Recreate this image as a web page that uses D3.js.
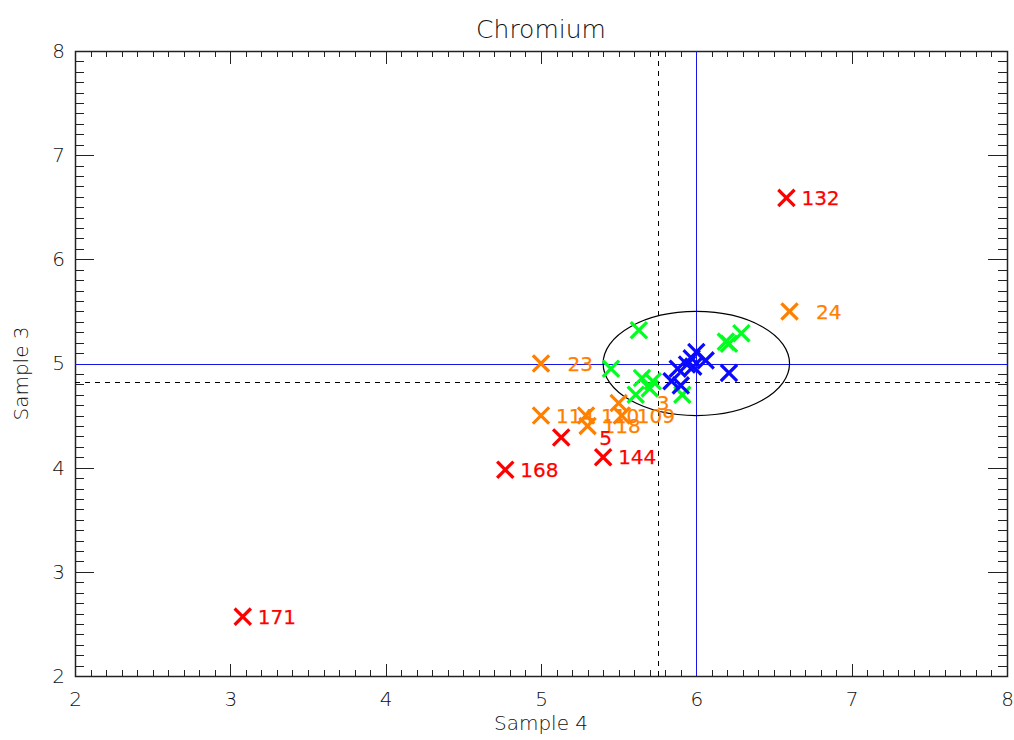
<!DOCTYPE html>
<html>
<head>
<meta charset="utf-8">
<script src="https://cdn.jsdelivr.net/npm/d3@7"></script>
<style>
  html, body { margin: 0; padding: 0; background: #fff; }
  svg { display: block; }
  text { font-family: "DejaVu Sans", sans-serif; }
</style>
</head>
<body>
<svg id="chart" width="1014" height="740"></svg>
<script>
// Axis ranges and tick labels
const xDomain = [2, 8];
const yDomain = [2, 8];
const xTickValues = [2, 3, 4, 5, 6, 7, 8];
const yTickValues = [2, 3, 4, 5, 6, 7, 8];

// Labelled outliers (red)
const redIds = [132, 171, 168, 144, 5];
const redX   = [6.58, 3.08, 4.77, 5.40, 5.13];
const redY   = [6.59, 2.57, 3.98, 4.10, 4.29];

// Labelled flagged samples (orange)
const orangeIds = [24, 23, 114, 110, 118, 109, 3];
const orangeX   = [6.60, 5.00, 5.00, 5.29, 5.30, 5.52, 5.50];
const orangeY   = [5.50, 5.00, 4.50, 4.50, 4.40, 4.50, 4.62];

// Samples inside tolerance (green)
const greenX = [5.63, 5.45, 5.65, 5.72, 5.70, 5.61, 5.91, 6.21, 6.19, 6.29];
const greenY = [5.32, 4.95, 4.86, 4.83, 4.76, 4.70, 4.70, 5.19, 5.21, 5.29];

// Core samples (blue)
const blueX = [6.00, 6.06, 5.97, 5.94, 5.88, 5.98, 5.84, 5.90, 6.21];
const blueY = [5.11, 5.03, 5.05, 4.99, 4.95, 4.97, 4.83, 4.79, 4.91];

// Reference values, medians and tolerance ellipse
const refX = 6.0, refY = 5.0;
const medianX = 5.75, medianY = 4.82;
const ellipseRadius = [0.6, 0.5];

const svg = d3.select("#chart");
const margin = { left: 75, right: 7, top: 51, bottom: 64 };
const W = 1014, H = 740;
const x0 = margin.left, x1 = W - margin.right;
const y0 = margin.top, y1 = H - margin.bottom;

const x = d3.scaleLinear().domain(xDomain).range([x0, x1]);
const y = d3.scaleLinear().domain(yDomain).range([y1, y0]);
// pixel-snapped positions for hairlines
const px = v => Math.round(x(v)) + 0.5;
const py = v => Math.round(y(v)) + 0.5;

const plotW = x1 - x0, plotH = y1 - y0;
const xMajorLen = plotH * 0.02, yMajorLen = plotW * 0.02;

// Minor ticks: ten divisions per unit
const xMinor = d3.range(xDomain[0] * 10, xDomain[1] * 10 + 1).map(v => v / 10);
const yMinor = d3.range(yDomain[0] * 10, yDomain[1] * 10 + 1).map(v => v / 10);

const axisColor = "#222";
const textColor = "#111";

// Bottom axis with labels
const bottomAxis = d3.axisBottom(x).tickValues(xTickValues).tickFormat(d3.format("d")).tickSize(0).tickPadding(16);
const gb = svg.append("g").attr("transform", `translate(0,${y1})`).call(bottomAxis);
gb.select(".domain").remove();
gb.selectAll("text").attr("font-size", 20).attr("font-weight", 200).attr("fill", textColor);

const leftAxis = d3.axisLeft(y).tickValues(yTickValues).tickFormat(d3.format("d")).tickSize(0).tickPadding(10);
const gl = svg.append("g").attr("transform", `translate(${x0},0)`).call(leftAxis);
gl.select(".domain").remove();
gl.selectAll("text").attr("font-size", 20).attr("font-weight", 200).attr("fill", textColor);

// Inward ticks on all four sides
const ticks = svg.append("g").attr("stroke", axisColor).attr("stroke-width", 1).attr("shape-rendering", "crispEdges");
const isMajor = v => Math.abs(v - Math.round(v)) < 1e-6;
xMinor.forEach(v => {
  const len = isMajor(v) ? xMajorLen : xMajorLen / 2;
  ticks.append("line").attr("x1", px(v)).attr("x2", px(v)).attr("y1", y1).attr("y2", y1 - len);
  ticks.append("line").attr("x1", px(v)).attr("x2", px(v)).attr("y1", y0).attr("y2", y0 + len);
});
yMinor.forEach(v => {
  const len = isMajor(v) ? yMajorLen : yMajorLen / 2;
  ticks.append("line").attr("y1", py(v)).attr("y2", py(v)).attr("x1", x0).attr("x2", x0 + len);
  ticks.append("line").attr("y1", py(v)).attr("y2", py(v)).attr("x1", x1).attr("x2", x1 - len);
});

// Frame
svg.append("rect").attr("x", x0 + 0.5).attr("y", y0 + 0.5).attr("width", plotW).attr("height", plotH)
  .attr("fill", "none").attr("stroke", axisColor).attr("stroke-width", 1.5);

// Reference lines
const refColor = "#1515e6";
const lines = svg.append("g").attr("shape-rendering", "crispEdges");
lines.append("line").attr("x1", px(refX)).attr("x2", px(refX)).attr("y1", y0).attr("y2", y1)
  .attr("stroke", refColor).attr("stroke-width", 1);
lines.append("line").attr("x1", x0).attr("x2", x1).attr("y1", py(refY)).attr("y2", py(refY))
  .attr("stroke", refColor).attr("stroke-width", 1);

// Median lines (dashed)
lines.append("line").attr("x1", px(medianX)).attr("x2", px(medianX)).attr("y1", y0).attr("y2", y1)
  .attr("stroke", "#000").attr("stroke-width", 1).attr("stroke-dasharray", "5,5");
lines.append("line").attr("x1", x0).attr("x2", x1).attr("y1", py(medianY)).attr("y2", py(medianY))
  .attr("stroke", "#000").attr("stroke-width", 1).attr("stroke-dasharray", "5,5");

// Tolerance ellipse
svg.append("ellipse")
  .attr("cx", x(refX)).attr("cy", y(refY))
  .attr("rx", x(refX + ellipseRadius[0]) - x(refX))
  .attr("ry", y(refY) - y(refY + ellipseRadius[1]))
  .attr("fill", "none").attr("stroke", "#000").attr("stroke-width", 1.2);

// Cross markers
const half = 7;
function crosses(xs, ys, color) {
  const g = svg.append("g").attr("stroke", color).attr("stroke-width", 3.2).attr("stroke-linecap", "square");
  xs.forEach((vx, i) => {
    const cx = x(vx), cy = y(ys[i]);
    g.append("path").attr("d", `M${cx - half},${cy - half}L${cx + half},${cy + half}M${cx - half},${cy + half}L${cx + half},${cy - half}`);
  });
}
const digitW = 11.5;
function labels(ids, xs, ys, color) {
  const g = svg.append("g").attr("fill", color).attr("stroke", color).attr("stroke-width", 0.25)
    .attr("font-size", 20);
  ids.forEach((id, i) => {
    const s = String(id);
    g.append("text")
      .attr("x", x(xs[i]) + 15 + (3 - s.length) * digitW)
      .attr("y", y(ys[i]))
      .attr("dy", "0.36em")
      .text(s);
  });
}

crosses(greenX, greenY, "#00ff1e");
crosses(blueX, blueY, "#0a0aff");
crosses(orangeX, orangeY, "#ff7f00");
labels(orangeIds, orangeX, orangeY, "#ff7f00");
crosses(redX, redY, "#ff0000");
labels(redIds, redX, redY, "#ff0000");

// Titles
svg.append("text").attr("x", (x0 + x1) / 2).attr("y", 38).attr("text-anchor", "middle")
  .attr("font-size", 25).attr("font-weight", 200).attr("fill", textColor).text("Chromium");
svg.append("text").attr("x", (x0 + x1) / 2).attr("y", 730).attr("text-anchor", "middle")
  .attr("font-size", 20).attr("font-weight", 200).attr("fill", textColor).text("Sample 4");
svg.append("text").attr("transform", `translate(28,${(y0 + y1) / 2 + 10}) rotate(-90)`)
  .attr("text-anchor", "middle")
  .attr("font-size", 20).attr("font-weight", 200).attr("fill", textColor).text("Sample 3");
</script>
</body>
</html>
